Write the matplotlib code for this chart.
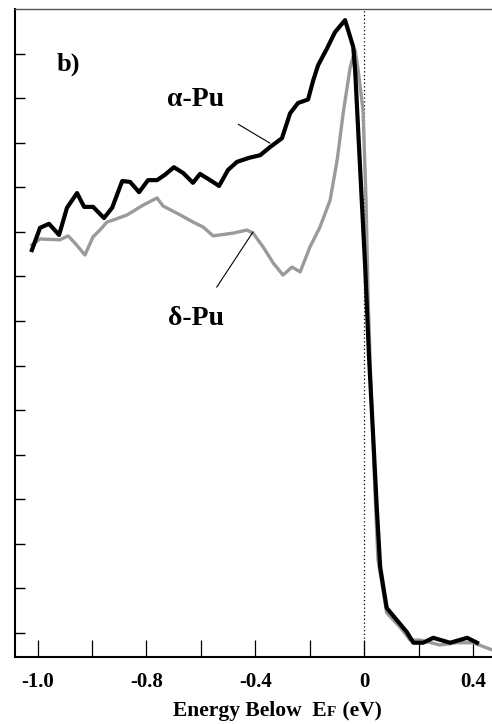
import matplotlib
matplotlib.use("Agg")
import matplotlib.pyplot as plt
from matplotlib.transforms import offset_copy

# ---- data ----
alpha_x = [-1.221, -1.191, -1.158, -1.121, -1.092, -1.055, -1.029, -0.996, -0.956, -0.926,
           -0.889, -0.860, -0.827, -0.794, -0.761, -0.732, -0.699, -0.665, -0.629, -0.603,
           -0.566, -0.533, -0.500, -0.467, -0.423, -0.382, -0.346, -0.302, -0.272, -0.243,
           -0.206, -0.187, -0.169, -0.136, -0.107, -0.070, -0.040, -0.033, -0.015, 0.004,
           0.018, 0.034, 0.047, 0.059, 0.083, 0.120, 0.157, 0.181, 0.217,
           0.254, 0.316, 0.379, 0.415]
alpha_y = [9.59, 10.09, 10.18, 9.93, 10.54, 10.87, 10.56, 10.56, 10.31, 10.54,
           11.14, 11.12, 10.89, 11.16, 11.16, 11.28, 11.45, 11.32, 11.10, 11.30,
           11.16, 11.03, 11.39, 11.57, 11.66, 11.72, 11.90, 12.10, 12.66, 12.89,
           12.97, 13.40, 13.74, 14.12, 14.48, 14.75, 14.15, 13.63, 11.46, 9.21,
           7.20, 5.33, 3.76, 2.48, 1.56, 1.29, 1.02, 0.78, 0.78,
           0.89, 0.78, 0.89, 0.78]

delta_x = [-1.221, -1.191, -1.118, -1.088, -1.063, -1.026, -0.996, -0.971, -0.945, -0.915,
           -0.871, -0.812, -0.761, -0.739, -0.676, -0.629, -0.592, -0.555, -0.482, -0.430,
           -0.408, -0.371, -0.334, -0.298, -0.265, -0.235, -0.199, -0.162, -0.125, -0.099,
           -0.077, -0.051, -0.033, -0.022, -0.004, 0.007, 0.015, 0.026, 0.040, 0.051,
           0.083, 0.132, 0.169, 0.206, 0.279, 0.342, 0.401, 0.470]
delta_y = [9.71, 9.84, 9.82, 9.91, 9.75, 9.48, 9.89, 10.04, 10.22, 10.28,
           10.38, 10.60, 10.76, 10.58, 10.38, 10.22, 10.11, 9.91, 9.97, 10.04,
           9.97, 9.66, 9.30, 9.03, 9.21, 9.10, 9.66, 10.11, 10.71, 11.61,
           12.66, 13.70, 14.08, 13.63, 12.73, 10.71, 8.47, 6.38, 4.14, 2.64,
           1.45, 1.13, 0.84, 0.84, 0.73, 0.78, 0.78, 0.62]

major_ticks = [-1.2, -0.8, -0.4, 0.0, 0.4]
major_labels = ["-1.0", "-0.8", "-0.4", "0", "0.4"]
minor_ticks = [-1.0, -0.6, -0.2, 0.2]
y_ticks = list(range(1, 15))

serif = ["Liberation Serif", "DejaVu Serif"]

fig = plt.figure(figsize=(4.92, 7.24), dpi=100)
ax = fig.add_axes([15/492, 67/724, 477/492, 648/724])

ax.plot(delta_x, delta_y, color="#9a9a9a", lw=2.4, solid_joinstyle="round", zorder=3)
ax.plot(alpha_x, alpha_y, color="black", lw=3.0, solid_joinstyle="round", zorder=4)
ax.axvline(0.0, color="black", lw=0.9, ls=(0, (1, 2)), zorder=2)

ax.set_xlim(-1.283, 0.47)
ax.set_ylim(0.46, 15.0)

ax.set_xticks(major_ticks)
ax.set_xticklabels(major_labels, fontfamily=serif, fontweight="bold", fontsize=15)
ax.set_xticks(minor_ticks, minor=True)
ax.tick_params(axis="x", which="both", direction="in", length=12, width=0.9, pad=11)
ax.set_yticks(y_ticks)
ax.set_yticklabels([])
ax.tick_params(axis="y", direction="in", length=7, width=1.0)

for s in ["left", "bottom"]:
    ax.spines[s].set_linewidth(1.5)
ax.spines["right"].set_visible(False)
ax.spines["top"].set_color("#555555")
ax.spines["top"].set_linewidth(1.0)

ax.text(-1.088, 13.77, "b)", fontfamily=serif, fontweight="bold", fontsize=19,
        ha="center", va="center")
ax.annotate("α-Pu", xy=(-0.346, 11.99), xytext=(-0.618, 12.98),
            fontfamily=serif, fontweight="bold", fontsize=20, ha="center", va="center",
            arrowprops=dict(arrowstyle="-", color="black", lw=0.8, shrinkA=14, shrinkB=0))
ax.annotate("δ-Pu", xy=(-0.408, 10.0), xytext=(-0.618, 8.05),
            fontfamily=serif, fontweight="bold", fontsize=20, ha="center", va="center",
            arrowprops=dict(arrowstyle="-", color="black", lw=0.8, shrinkA=14, shrinkB=0))

# x-axis label built from pieces: "Energy Below  E" + small "F" + " (eV)"
pieces = [("Energy Below  E", 15.5), ("F", 11), (" (eV)", 15.5)]
fig.canvas.draw()
renderer = fig.canvas.get_renderer()
x0 = 173.0
ybase = 1 - 716/724
for txt, fs in pieces:
    t = fig.text(x0/492, ybase, txt, fontfamily=serif, fontweight="bold",
                 fontsize=fs, ha="left", va="baseline")
    w = t.get_window_extent(renderer).width
    x0 += w + 0.5

fig.savefig("out.png", dpi=100)
